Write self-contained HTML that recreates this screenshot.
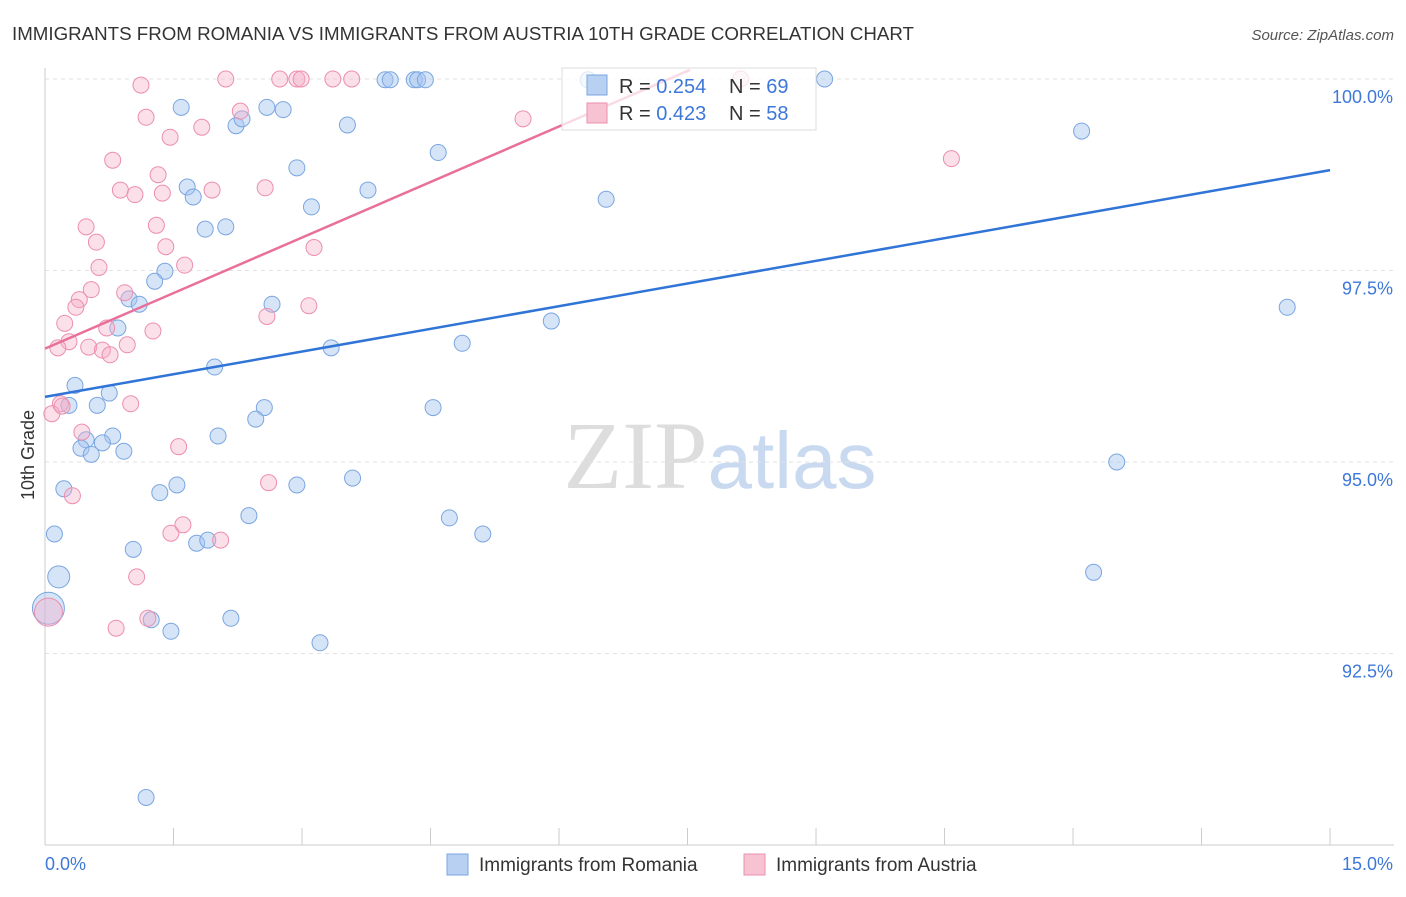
<!DOCTYPE html>
<html><head><meta charset="utf-8"><style>
body{margin:0;background:#fff;font-family:"Liberation Sans",sans-serif}
</style></head><body>
<svg id="c" width="1406" height="892" xmlns="http://www.w3.org/2000/svg" font-family="Liberation Sans, sans-serif">
<text x="12" y="40" font-size="18" fill="#333" textLength="902" lengthAdjust="spacingAndGlyphs">IMMIGRANTS FROM ROMANIA VS IMMIGRANTS FROM AUSTRIA 10TH GRADE CORRELATION CHART</text>
<text x="1394" y="40" font-size="15" fill="#555" text-anchor="end" font-style="italic">Source: ZipAtlas.com</text>
<text x="720" y="488" font-size="96" text-anchor="middle"><tspan fill="#ddd" font-family="Liberation Serif, serif">ZIP</tspan><tspan fill="#c9daf0" font-size="80">atlas</tspan></text>
<text transform="translate(34,455) rotate(-90)" font-size="18" fill="#333" text-anchor="middle">10th Grade</text>
<g id="grid"></g><g id="axes"></g><g id="pts"></g><g id="lines"></g>
<g>
<rect x="562" y="68" width="254" height="62" fill="#fff" fill-opacity="0.75" stroke="#ddd"/>
<rect x="587" y="75" width="20" height="20" fill="#b8d0f2" stroke="#7aa6e0"/>
<text x="619" y="93" font-size="20" fill="#333">R = <tspan fill="#3d78d8">0.254</tspan></text>
<text x="729" y="93" font-size="20" fill="#333">N = <tspan fill="#3d78d8">69</tspan></text>
<rect x="587" y="103" width="20" height="20" fill="#f7c3d3" stroke="#ec8fae"/>
<text x="619" y="120" font-size="20" fill="#333">R = <tspan fill="#3d78d8">0.423</tspan></text>
<text x="729" y="120" font-size="20" fill="#333">N = <tspan fill="#3d78d8">58</tspan></text>
</g>
<g>
<rect x="447" y="854" width="21" height="21" fill="#b8d0f2" stroke="#7aa6e0"/>
<text x="479" y="871" font-size="19" fill="#333">Immigrants from Romania</text>
<rect x="744" y="854" width="21" height="21" fill="#f7c3d3" stroke="#ec8fae"/>
<text x="776" y="871" font-size="19" fill="#333">Immigrants from Austria</text>
</g>
</svg>
<script>
const blueX=[1.59,2.23,2.30,2.59,2.78,3.53,3.97,4.03,4.31,4.35,4.44,9.1,4.59,2.94,1.66,1.73,3.11,3.77,6.55,1.87,2.11,12.1,1.4,1.28,0.98,1.1,2.65,0.85,5.91,3.34,4.87,14.5,1.98,0.35,0.75,0.28,0.61,2.56,2.46,4.53,0.48,0.79,0.42,0.67,0.54,0.92,2.02,0.22,1.34,1.54,2.94,3.59,12.51,2.38,4.72,0.11,1.03,1.77,1.9,5.11,0.16,12.24,0.04,1.24,1.47,2.17,3.21,1.18,6.34];
const blueY=[99.63,99.39,99.48,99.63,99.60,99.40,99.99,99.99,99.99,99.99,99.99,100.0,99.04,98.84,98.59,98.46,98.33,98.55,98.43,98.04,98.07,99.32,97.49,97.36,97.13,97.06,97.06,96.75,96.84,96.49,96.55,97.02,96.24,96.0,95.9,95.74,95.74,95.71,95.56,95.71,95.29,95.34,95.18,95.25,95.1,95.14,95.34,94.65,94.6,94.7,94.7,94.79,95.0,94.3,94.27,94.06,93.86,93.94,93.98,94.06,93.5,93.56,93.09,92.94,92.79,92.96,92.64,90.62,99.99];
const blueR=[8,8,8,8,8,8,8,8,8,8,8,8,8,8,8,8,8,8,8,8,8,8,8,8,8,8,8,8,8,8,8,8,8,8,8,8,8,8,8,8,8,8,8,8,8,8,8,8,8,8,8,8,8,8,8,8,8,8,8,8,11,8,16,8,8,8,8,8,8];
const pinkX=[1.12,2.11,2.74,2.94,2.99,3.36,3.58,8.12,1.18,2.28,1.46,1.83,5.58,10.58,0.79,1.32,0.88,1.05,1.37,1.95,2.57,1.3,0.48,0.6,1.41,3.14,0.63,1.63,0.54,0.93,0.4,0.36,0.23,2.59,3.08,0.72,1.26,0.28,0.15,0.51,0.96,0.67,0.76,1.0,0.18,0.08,0.43,1.56,0.32,2.61,1.61,1.47,2.05,1.07,0.83,1.2,0.04,0.2];
const pinkY=[99.92,100.0,100.0,100.0,100.0,100.0,100.0,100.0,99.5,99.58,99.24,99.37,99.48,98.96,98.94,98.75,98.55,98.49,98.51,98.55,98.58,98.09,98.07,97.87,97.81,97.8,97.54,97.57,97.25,97.21,97.12,97.02,96.81,96.9,97.04,96.75,96.71,96.57,96.49,96.5,96.53,96.46,96.4,95.76,95.76,95.63,95.39,95.2,94.56,94.73,94.18,94.07,93.98,93.5,92.83,92.96,93.04,95.73];
const pinkR=[8,8,8,8,8,8,8,8,8,8,8,8,8,8,8,8,8,8,8,8,8,8,8,8,8,8,8,8,8,8,8,8,8,8,8,8,8,8,8,8,8,8,8,8,8,8,8,8,8,8,8,8,8,8,8,8,14,8];
const blueLine=[[0,95.85],[15,98.81]];
const pinkLine=[[0,96.48],[7.53,100.12]];
const yTicks=[100,97.5,95,92.5];
const yTickLabels=["100.0%","97.5%","95.0%","92.5%"];
const NS="http://www.w3.org/2000/svg";
const X=v=>45+v*85.67, Y=v=>79+(100-v)*76.6;
function mk(t,a,p){const e=document.createElementNS(NS,t);for(const k in a)e.setAttribute(k,a[k]);document.getElementById(p).appendChild(e);return e;}
yTicks.forEach((t,i)=>{
 const g=mk('line',{x1:45,x2:1394,y1:Y(t),y2:Y(t),stroke:'#e2e2e2','stroke-dasharray':'4,4'},'grid');
 
 
 const l=mk('text',{x:1393,y:Y(t)+24,'font-size':18,fill:'#3d78d8','text-anchor':'end'},'axes');
 l.textContent=yTickLabels[i];
 
 
});
const ax=mk('line',{x1:45,x2:45,y1:68,y2:845,stroke:'#ccc'},'axes');


const bx=mk('line',{x1:45,x2:1394,y1:845,y2:845,stroke:'#ccc'},'axes');


for(let i=0;i<=10;i++){const t=mk('line',{x1:X(i*1.5),x2:X(i*1.5),y1:828,y2:845,stroke:'#ccc'},'axes');
 
 }
const x0=mk('text',{x:45,y:870,'font-size':18,fill:'#3d78d8'},'axes');x0.textContent='0.0%';


const x1=mk('text',{x:1393,y:870,'font-size':18,fill:'#3d78d8','text-anchor':'end'},'axes');x1.textContent='15.0%';


function pts(xs,ys,rs,fill,stroke,name){xs.forEach((x,i)=>{const c=mk('circle',{cx:X(x),cy:Y(ys[i]),r:rs[i],fill:fill,stroke:stroke,'stroke-width':1},'pts');
 
 });}
pts(blueX,blueY,blueR,'rgba(164,196,240,0.45)','#7aa6e0','romania-point');
pts(pinkX,pinkY,pinkR,'rgba(246,176,200,0.4)','#ec8fae','austria-point');
const bl=mk('line',{x1:X(blueLine[0][0]),y1:Y(blueLine[0][1]),x2:X(blueLine[1][0]),y2:Y(blueLine[1][1]),stroke:'#2f74d6','stroke-width':2.5},'lines');


const pl=mk('line',{x1:X(pinkLine[0][0]),y1:Y(pinkLine[0][1]),x2:X(pinkLine[1][0]),y2:Y(pinkLine[1][1]),stroke:'#e8709a','stroke-width':2.5},'lines');


</script>
</body></html>
